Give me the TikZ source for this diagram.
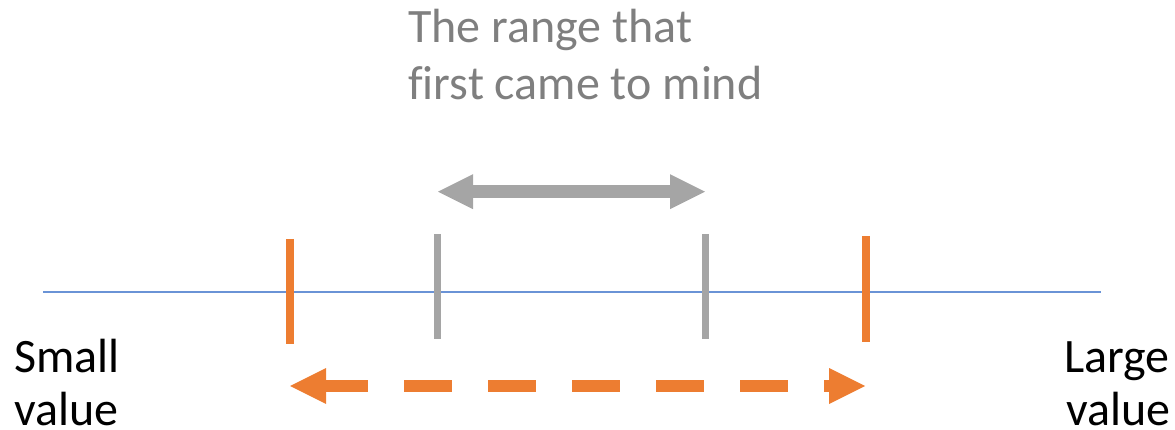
\documentclass[tikz,border=0pt]{standalone}
\usepackage{fontspec}
\setmainfont[Ligatures=NoCommon]{Carlito}
\definecolor{tickorange}{HTML}{ED7D31}
\definecolor{tickgray}{HTML}{A5A5A5}
\definecolor{labelgray}{HTML}{7F7F7F}
\definecolor{axisblue}{HTML}{6A93D6}
\begin{document}
\begin{tikzpicture}[x=1pt,y=-1pt,
  axisline/.style={draw=axisblue, line width=2pt},
  otick/.style={draw=tickorange, line width=8pt},
  gtick/.style={draw=tickgray, line width=7pt},
  grayshaft/.style={draw=tickgray, line width=12.5pt},
  orangeshaft/.style={draw=tickorange, line width=12pt, dash pattern=on 48pt off 36pt, dash phase=6pt},
  lbl/.style={font=\fontsize{48}{57}\selectfont, inner sep=0pt, anchor=base west},
]
\useasboundingbox (0,0) rectangle (1175,430);

% number line
\coordinate (axL) at (43,291.7);
\coordinate (axR) at (1100.5,291.7);
\draw[axisline] (axL) -- (axR);

% outer (orange) bounds
\coordinate (o1t) at (290,239);   \coordinate (o1b) at (290,344);
\coordinate (o2t) at (866,236);   \coordinate (o2b) at (866,342);
\draw[otick] (o1t) -- (o1b);
\draw[otick] (o2t) -- (o2b);

% inner (gray) bounds
\coordinate (g1t) at (437.5,234); \coordinate (g1b) at (437.5,339);
\coordinate (g2t) at (705.5,234); \coordinate (g2b) at (705.5,339);
\draw[gtick] (g1t) -- (g1b);
\draw[gtick] (g2t) -- (g2b);

% gray double arrow
\coordinate (gaL) at (438,191.7);
\coordinate (gaR) at (705,191.7);
\draw[grayshaft] ([xshift=34pt]gaL) -- ([xshift=-34pt]gaR);
\fill[tickgray] (gaL) -- ++(35,-17.5) -- ++(0,35) -- cycle;
\fill[tickgray] (gaR) -- ++(-35,-17.5) -- ++(0,35) -- cycle;

% orange dashed double arrow
\coordinate (oaL) at (290,386);
\coordinate (oaR) at (865,386);
\draw[orangeshaft] ([xshift=36pt]oaL) -- ([xshift=-35pt]oaR);
\fill[tickorange] (oaL) -- ++(36,-18) -- ++(0,36) -- cycle;
\fill[tickorange] (oaR) -- ++(-36,-18) -- ++(0,36) -- cycle;

% labels
\node[lbl, text=labelgray] (cap1) at (408,43) {The range that};
\node[lbl, text=labelgray] (cap2) at (408,100) {first came to mind};
\node[lbl] (sm1) at (14,372) {Small};
\node[lbl] (sm2) at (14,425) {value};
\node[lbl] (lg1) at (1064,372) {Large};
\node[lbl] (lg2) at (1066,425) {value};
\end{tikzpicture}
\end{document}
